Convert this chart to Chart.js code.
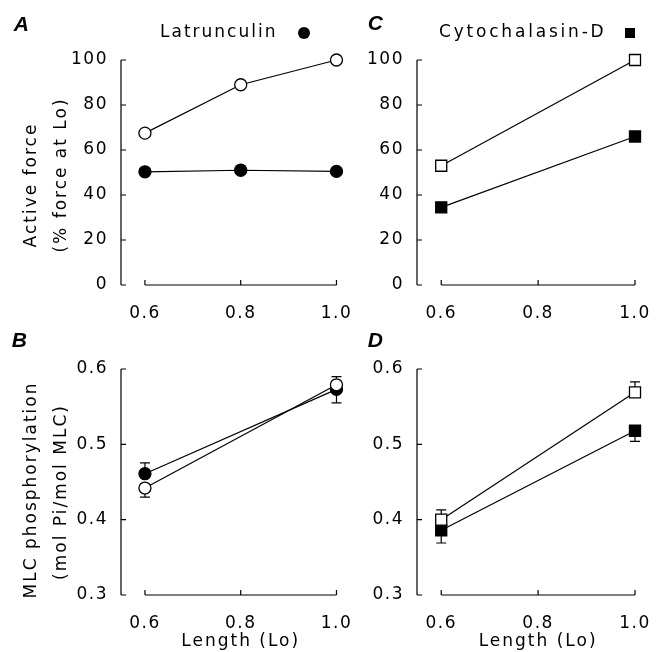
<!DOCTYPE html>
<html>
<head>
<meta charset="utf-8">
<script src="https://cdn.jsdelivr.net/npm/chart.js@4.4.1/dist/chart.umd.min.js"></script>
<style>
  html, body { margin: 0; padding: 0; background: #fff; }
  #wrap { position: relative; width: 662px; height: 652px; overflow: hidden; }
  #wrap canvas { position: absolute; }
</style>
</head>
<body>
<div id="wrap">
  <canvas id="chartC" width="331" height="326" style="left:331px;top:0"></canvas>
  <canvas id="chartD" width="331" height="326" style="left:331px;top:326px"></canvas>
  <canvas id="chartA" width="360" height="326" style="left:0;top:0"></canvas>
  <canvas id="chartB" width="360" height="326" style="left:0;top:326px"></canvas>
</div>
<script>
// --- data ---
const latLengths = [0.6, 0.8, 1.0];
const cdLengths = [0.6, 1.0];
const xTickValues = [0.6, 0.8, 1.0];
const forceTicks = [0, 20, 40, 60, 80, 100];
const phosTicks = [0.3, 0.4, 0.5, 0.6];

// A: active force, latrunculin
const latForceControl = [67.5, 89, 100];
const latForceTreated = [50.3, 51, 50.5];
const latForceTreatedErr = [0, 2, 0];

// C: active force, cytochalasin-D
const cdForceControl = [53, 100];
const cdForceTreated = [34.5, 66];

// B: MLC phosphorylation, latrunculin (signed error: + up, - down)
const latPhosControl = [0.442, 0.579];
const latPhosControlErr = [-0.012, 0.011];
const latPhosTreated = [0.461, 0.573];
const latPhosTreatedErr = [0.0145, -0.018];

// D: MLC phosphorylation, cytochalasin-D
const cdPhosControl = [0.400, 0.569];
const cdPhosControlErr = [0.013, 0.014];
const cdPhosTreated = [0.386, 0.518];
const cdPhosTreatedErr = [-0.017, -0.014];

const FONT = '"DejaVu Sans", sans-serif';

function series(xs, ys, errs, shape, filled) {
    return {
        data: xs.map((x, i) => ({ x: x, y: ys[i] })),
        errors: errs || null,
        borderColor: '#000',
        borderWidth: 1.2,
        pointStyle: shape,
        pointRadius: shape === 'circle' ? 6 : 7.8,
        pointHoverRadius: shape === 'circle' ? 6 : 7.8,
        pointBackgroundColor: filled ? '#000' : '#fff',
        pointBorderColor: '#000',
        pointBorderWidth: 1.3,
        clip: false,
        tension: 0
    };
}

// axes as range frames, error bars, and the free texts
const framePlugin = {
    id: 'frame',
    beforeDraw(chart) {
        chart.ctx.letterSpacing = '1.5px';
    },
    beforeDatasetsDraw(chart) {
        const { ctx, chartArea, scales: { x, y } } = chart;
        ctx.save();
        ctx.strokeStyle = '#000';
        ctx.lineWidth = 1.2;
        ctx.beginPath();
        const xl = chartArea.left;
        ctx.moveTo(xl, y.getPixelForValue(y.max));
        ctx.lineTo(xl, y.getPixelForValue(y.min));
        y.ticks.forEach(t => {
            const py = y.getPixelForValue(t.value);
            ctx.moveTo(xl, py);
            ctx.lineTo(xl + 5, py);
        });
        const yb = chartArea.bottom;
        ctx.moveTo(x.getPixelForValue(xTickValues[0]), yb);
        ctx.lineTo(x.getPixelForValue(xTickValues[xTickValues.length - 1]), yb);
        xTickValues.forEach(v => {
            const px = x.getPixelForValue(v);
            ctx.moveTo(px, yb);
            ctx.lineTo(px, yb - 5);
        });
        ctx.stroke();

        chart.data.datasets.forEach(ds => {
            if (!ds.errors) return;
            ds.data.forEach((p, j) => {
                const e = ds.errors[j];
                if (!e) return;
                const px = x.getPixelForValue(p.x);
                const py1 = y.getPixelForValue(p.y + e);
                ctx.beginPath();
                ctx.moveTo(px, y.getPixelForValue(p.y));
                ctx.lineTo(px, py1);
                ctx.moveTo(px - 5, py1);
                ctx.lineTo(px + 5, py1);
                ctx.stroke();
            });
        });
        ctx.restore();
    },
    afterDraw(chart, args, opts) {
        const { ctx, scales: { x } } = chart;
        ctx.save();
        ctx.fillStyle = '#000';
        ctx.textBaseline = 'middle';
        (opts.texts || []).forEach(t => {
            ctx.save();
            ctx.font = t.font || ('17px ' + FONT);
            ctx.letterSpacing = (t.spacing || 1.5) + 'px';
            ctx.textAlign = t.align || 'center';
            const tx = t.atTick !== undefined ? x.getPixelForValue(t.atTick) : t.x;
            ctx.translate(tx, t.y);
            if (t.rotate) ctx.rotate(-Math.PI / 2);
            ctx.fillText(t.text, 0, 0);
            ctx.restore();
        });
        if (opts.marker) {
            const m = opts.marker;
            ctx.beginPath();
            if (m.shape === 'circle') {
                ctx.arc(m.x, m.y, 6, 0, Math.PI * 2);
                ctx.fill();
            } else {
                ctx.fillRect(m.x - 5, m.y - 5, 10, 10);
            }
        }
        ctx.restore();
    }
};

function makePanel(id, box, datasets, yTicks, texts, marker) {
    const canvas = document.getElementById(id);
    const w = canvas.width, h = canvas.height;
    return new Chart(canvas.getContext('2d'), {
        type: 'line',
        data: { datasets: datasets },
        options: {
            responsive: false,
            animation: false,
            events: [],
            layout: { padding: { top: box.top, right: w - box.right, left: 0, bottom: 0 } },
            plugins: {
                legend: { display: false },
                tooltip: { enabled: false },
                frame: { texts: texts, marker: marker }
            },
            scales: {
                x: {
                    type: 'linear',
                    min: 0.55,
                    max: 1.0,
                    grid: { display: false },
                    border: { display: false },
                    afterBuildTicks: s => { s.ticks = xTickValues.map(v => ({ value: v })); },
                    afterFit: s => { s.height = h - box.bottom; },
                    ticks: {
                        color: '#000',
                        padding: 10,
                        maxRotation: 0,
                        font: { family: FONT, size: 17 },
                        callback: v => v.toFixed(1)
                    }
                },
                y: {
                    type: 'linear',
                    min: yTicks[0],
                    max: yTicks[yTicks.length - 1],
                    grid: { display: false },
                    border: { display: false },
                    afterBuildTicks: s => { s.ticks = yTicks.map(v => ({ value: v })); },
                    afterFit: s => { s.width = box.left; },
                    ticks: {
                        color: '#000',
                        padding: 5,
                        font: { family: FONT, size: 17 },
                        callback: v => (yTicks[1] - yTicks[0] < 1 ? v.toFixed(1) : String(v))
                    }
                }
            }
        },
        plugins: [framePlugin]
    });
}

const labelFont = 'bold italic 21px "Liberation Sans", Arial, sans-serif';

// 1. Panel A
makePanel('chartA', { left: 121, right: 341, top: 60, bottom: 285 }, [
    series(latLengths, latForceControl, null, 'circle', false),
    series(latLengths, latForceTreated, latForceTreatedErr, 'circle', true)
], forceTicks, [
    { text: 'A', x: 22, y: 25, font: labelFont, spacing: 0 },
    { text: 'Latrunculin', x: 160, y: 33, align: 'left', spacing: 2 },
    { text: 'Active force', x: 32, y: 185, rotate: true, spacing: 2 },
    { text: '(% force at Lo)', x: 62, y: 175, rotate: true, spacing: 2 }
], { shape: 'circle', x: 304, y: 33 });

// 2. Panel C
makePanel('chartC', { left: 86, right: 304, top: 60, bottom: 285 }, [
    series(cdLengths, cdForceControl, null, 'rect', false),
    series(cdLengths, cdForceTreated, null, 'rect', true)
], forceTicks, [
    { text: 'C', x: 45, y: 24, font: labelFont, spacing: 0 },
    { text: 'Cytochalasin-D', x: 108, y: 33, align: 'left', spacing: 2.8 }
], { shape: 'rect', x: 299, y: 33 });

// 3. Panel B
makePanel('chartB', { left: 121, right: 340, top: 43, bottom: 269 }, [
    series(cdLengths, latPhosControl, latPhosControlErr, 'circle', false),
    series(cdLengths, latPhosTreated, latPhosTreatedErr, 'circle', true)
], phosTicks, [
    { text: 'B', x: 20, y: 15, font: labelFont, spacing: 0 },
    { text: 'MLC phosphorylation', x: 32, y: 164, rotate: true, spacing: 2 },
    { text: '(mol Pi/mol MLC)', x: 62, y: 166, rotate: true, spacing: 2 },
    { text: 'Length (Lo)', atTick: 0.8, y: 316, spacing: 2 }
]);

// 4. Panel D
makePanel('chartD', { left: 86, right: 304, top: 43, bottom: 269 }, [
    series(cdLengths, cdPhosControl, cdPhosControlErr, 'rect', false),
    series(cdLengths, cdPhosTreated, cdPhosTreatedErr, 'rect', true)
], phosTicks, [
    { text: 'D', x: 45, y: 15, font: labelFont, spacing: 0 },
    { text: 'Length (Lo)', atTick: 0.8, y: 316, spacing: 2 }
]);
</script>
</body>
</html>
